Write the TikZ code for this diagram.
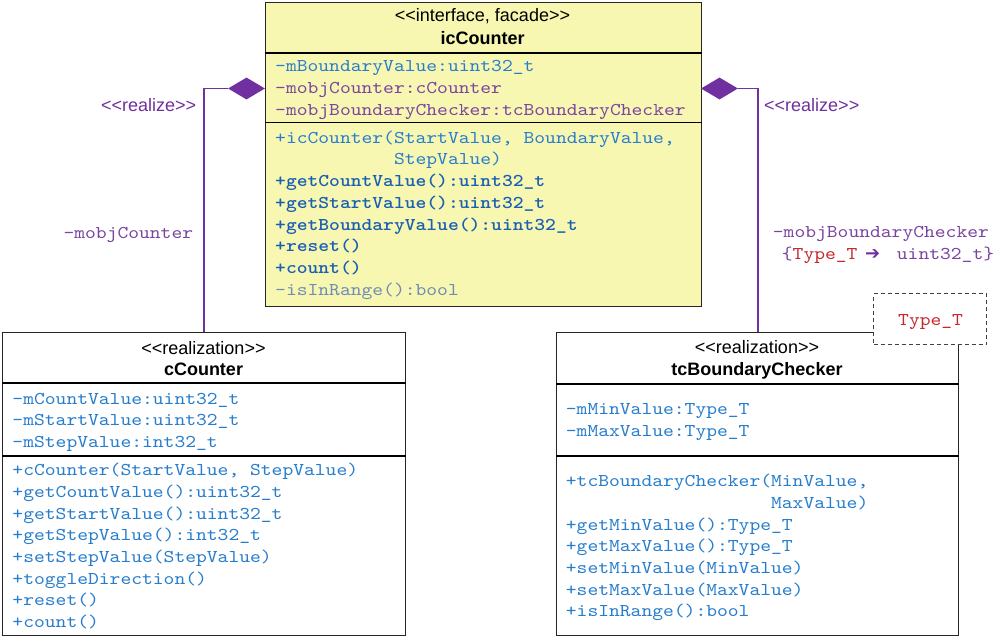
\documentclass[tikz,border=0pt]{standalone}
\usepackage{fontspec}
\setmainfont{Liberation Sans}
\newfontfamily\monof{lmmono10-regular.otf}[FakeStretch=1.143, BoldFont=lmmonolt10-bold.otf]
\newfontfamily\djv{DejaVu Sans}
\usetikzlibrary{shapes.geometric}
\definecolor{ublue}{RGB}{38,125,205}
\definecolor{bblue}{RGB}{25,95,180}
\definecolor{mpurple}{RGB}{122,68,160}
\definecolor{gblue}{RGB}{110,140,180}
\definecolor{cpurple}{RGB}{112,48,160}
\definecolor{tred}{RGB}{200,40,45}
\definecolor{yfill}{RGB}{247,247,178}
\newcommand\stopen{<\kern0pt<}
\newcommand\stclose{>\kern0pt>}
\begin{document}
\begin{tikzpicture}[x=1pt,y=-1pt,
  classbox/.style={draw=black!85, line width=1.2pt, anchor=north west, inner sep=0pt, rectangle},
  sepline/.style={line width=1.2pt, draw=black},
  mem/.style={anchor=base west, inner sep=0pt, font=\monof\fontsize{18}{21.7}\selectfont},
  bmem/.style={mem, text=bblue, font=\monof\bfseries\fontsize{18}{21.7}\selectfont},
  hdr/.style={anchor=base, inner sep=0pt, font=\fontsize{18}{21.7}\selectfont},
  bhdr/.style={hdr, font=\bfseries\fontsize{18}{21.7}\selectfont},
  lbl/.style={anchor=base west, inner sep=0pt, font=\fontsize{18}{21.7}\selectfont, text=cpurple},
  conn/.style={draw=cpurple, line width=1.8pt},
  agg/.style={diamond, fill=cpurple, inner sep=0pt, aspect=1.7, minimum width=37pt, minimum height=22pt}]
\useasboundingbox (0,0) rectangle (1000,644);
\fill[white] (0,0) rectangle (1000,644);

% class boxes
\node[classbox, fill=yfill, minimum width=435.5pt, minimum height=303.5pt] (ic) at (265,2) {};
\node[classbox, fill=white, minimum width=402.5pt, minimum height=303pt] (cc) at (2,332) {};
\node[classbox, fill=white, minimum width=402pt, minimum height=303pt] (tc) at (556,332) {};

% connectors
\node[agg] (dL) at (246.5,88.5) {};
\node[agg] (dR) at (719.5,88.5) {};
\draw[conn] (dL.west) -| (cc.north);
\draw[conn] (dR.east) -| (tc.north);

% separators
\draw[sepline] (ic.west |- 0,53) -- (ic.east |- 0,53);
\draw[sepline] (ic.west |- 0,122.5) -- (ic.east |- 0,122.5);
\draw[sepline] (cc.west |- 0,383) -- (cc.east |- 0,383);
\draw[sepline] (cc.west |- 0,456) -- (cc.east |- 0,456);
\draw[sepline] (tc.west |- 0,384) -- (tc.east |- 0,384);
\draw[sepline] (tc.west |- 0,456) -- (tc.east |- 0,456);

% icCounter
\node[hdr] (icS) at (482.5,21.7) {\stopen interface, facade\stclose};
\node[bhdr] (icN) at (482.5,44.3) {icCounter};
\node[mem, text=ublue] (icA1) at (275,72) {-mBoundaryValue:uint32\_t};
\node[mem, text=mpurple] (icA2) at (275,93.7) {-mobjCounter:cCounter};
\node[mem, text=mpurple] (icA3) at (275,115.4) {-mobjBoundaryChecker:tcBoundaryChecker};
\node[mem, text=ublue] (icO1) at (275,143.3) {+icCounter(StartValue, BoundaryValue,};
\node[mem, text=ublue] (icO1b) at (393.8,165) {StepValue)};
\node[bmem] (icO2) at (275,186.7) {+getCountValue():uint32\_t};
\node[bmem] (icO3) at (275,208.4) {+getStartValue():uint32\_t};
\node[bmem] (icO4) at (275,230.1) {+getBoundaryValue():uint32\_t};
\node[bmem] (icO5) at (275,251.8) {+reset()};
\node[bmem] (icO6) at (275,273.5) {+count()};
\node[mem, text=gblue] (icO7) at (275,295.2) {-isInRange():bool};

% cCounter
\node[hdr] (ccS) at (203.5,354) {\stopen realization\stclose};
\node[bhdr] (ccN) at (203.5,375) {cCounter};
\node[mem, text=ublue] (ccA1) at (12.3,404) {-mCountValue:uint32\_t};
\node[mem, text=ublue] (ccA2) at (12.3,425.7) {-mStartValue:uint32\_t};
\node[mem, text=ublue] (ccA3) at (12.3,447.4) {-mStepValue:int32\_t};
\node[mem, text=ublue] (ccO1) at (12.3,475.7) {+cCounter(StartValue, StepValue)};
\node[mem, text=ublue] (ccO2) at (12.3,497.4) {+getCountValue():uint32\_t};
\node[mem, text=ublue] (ccO3) at (12.3,519.1) {+getStartValue():uint32\_t};
\node[mem, text=ublue] (ccO4) at (12.3,540.8) {+getStepValue():int32\_t};
\node[mem, text=ublue] (ccO5) at (12.3,562.5) {+setStepValue(StepValue)};
\node[mem, text=ublue] (ccO6) at (12.3,584.2) {+toggleDirection()};
\node[mem, text=ublue] (ccO7) at (12.3,605.9) {+reset()};
\node[mem, text=ublue] (ccO8) at (12.3,627.6) {+count()};

% tcBoundaryChecker
\node[hdr] (tcS) at (757,353.3) {\stopen realization\stclose};
\node[bhdr] (tcN) at (757,375) {tcBoundaryChecker};
\node[mem, text=ublue] (tcA1) at (565.7,414.3) {-mMinValue:Type\_T};
\node[mem, text=ublue] (tcA2) at (565.7,436) {-mMaxValue:Type\_T};
\node[mem, text=ublue] (tcO1) at (565.7,486.7) {+tcBoundaryChecker(MinValue,};
\node[mem, text=ublue] (tcO1b) at (770.9,508.4) {MaxValue)};
\node[mem, text=ublue] (tcO2) at (565.7,530.1) {+getMinValue():Type\_T};
\node[mem, text=ublue] (tcO3) at (565.7,551.8) {+getMaxValue():Type\_T};
\node[mem, text=ublue] (tcO4) at (565.7,573.5) {+setMinValue(MinValue)};
\node[mem, text=ublue] (tcO5) at (565.7,595.2) {+setMaxValue(MaxValue)};
\node[mem, text=ublue] (tcO6) at (565.7,616.9) {+isInRange():bool};

% template parameter box
\node[draw=black!75, line width=1.2pt, dash pattern=on 4pt off 3pt, fill=white, anchor=north west, inner sep=0pt, minimum width=113pt, minimum height=51pt] (tp) at (873,293) {};
\node[mem, text=tred] (tpT) at (898,325) {Type\_T};

% labels
\node[lbl] (rL) at (101,111.7) {\stopen realize\stclose};
\node[lbl] (rR) at (764,111.7) {\stopen realize\stclose};
\node[mem, text=mpurple] (lL) at (63.3,238.3) {-mobjCounter};
\node[mem, text=mpurple] (lR) at (772.7,237.5) {-mobjBoundaryChecker};
\node[mem, text=mpurple] (lR2a) at (781.7,259) {\{\textcolor{tred}{Type\_T}};
\node[anchor=base west, inner sep=0pt, text=cpurple, font=\djv\fontsize{18}{18}\selectfont] (lR2b) at (865,259) {➔};
\node[mem, text=mpurple] (lR2c) at (896.7,259) {uint32\_t\}};
\end{tikzpicture}
\end{document}
